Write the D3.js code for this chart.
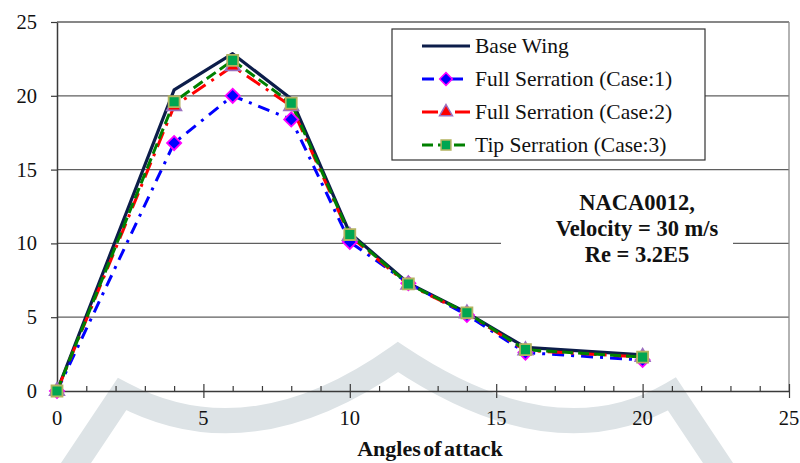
<!DOCTYPE html>
<html>
<head>
<meta charset="utf-8">
<script src="https://cdn.jsdelivr.net/npm/d3@7"></script>
<style>
  body { margin: 0; background: #fff; }
  svg { display: block; font-family: "Liberation Serif", "Times New Roman", serif; }
</style>
</head>
<body>
<div id="chart"></div>
<script>
// angles of attack
var angles = [0, 4, 6, 8, 10, 12, 14, 16, 20]

var baseWing = [0, 20.4, 22.85, 19.8, 10.7, 7.3, 5.3, 2.95, 2.45]
var fullCase1 = [0, 16.8, 20.0, 18.4, 10.1, 7.3, 5.15, 2.6, 2.1]
var fullCase2 = [0, 19.3, 22.0, 19.3, 10.5, 7.2, 5.25, 2.75, 2.3]
var tipCase3 = [0, 19.6, 22.4, 19.5, 10.6, 7.25, 5.3, 2.8, 2.3]

var seriesNames = ["Base Wing", "Full Serration (Case:1)", "Full Serration (Case:2)", "Tip Serration (Case:3)"]
var xTicks = [0, 5, 10, 15, 20, 25]
var yTicks = [0, 5, 10, 15, 20, 25]
var noteLines = ["NACA0012,", "Velocity = 30 m/s", "Re = 3.2E5"]

var width = 800, height = 463
var margin = { left: 57, right: 12, top: 22, bottom: 72 }

var svg = d3.select("#chart").append("svg")
    .attr("width", width)
    .attr("height", height)

// faint watermark behind the chart
svg.append("path")
    .attr("d", "M66,478 L122,394 Q250,462 398,357 Q555,462 672,394 L728,478")
    .attr("fill", "none")
    .attr("stroke", "#dde3e6")
    .attr("stroke-width", 25)
    .attr("stroke-linejoin", "miter")

var x = d3.scaleLinear().domain([0, 25]).range([margin.left, width - margin.right + 1])
var y = d3.scaleLinear().domain([0, 25]).range([height - margin.bottom, margin.top])

// grid
svg.append("g")
    .selectAll("line")
    .data(yTicks.filter(d => d > 0))
    .enter().append("line")
    .attr("x1", x(0)).attr("x2", x(25))
    .attr("y1", d => y(d)).attr("y2", d => y(d))
    .attr("stroke", "#5f5f5f")
    .attr("stroke-width", 1.3)

// right border of the plot area
svg.append("line")
    .attr("x1", x(25)).attr("x2", x(25))
    .attr("y1", y(25)).attr("y2", y(0))
    .attr("stroke", "#8a8a8a")
    .attr("stroke-width", 1.3)

// note box (white, hides grid)
var note = svg.append("g")
note.append("rect")
    .attr("x", 501).attr("y", 176)
    .attr("width", 232).attr("height", 110)
    .attr("fill", "#fff")
note.selectAll("text")
    .data(noteLines)
    .enter().append("text")
    .attr("x", 637)
    .attr("y", (d, i) => 210 + i * 26)
    .attr("text-anchor", "middle")
    .style("font-size", "22.5px")
    .style("font-weight", 700)
    .attr("fill", "#111")
    .text(d => d)

// axes
var xAxisG = svg.append("g")
    .attr("transform", "translate(0," + y(0) + ")")
    .call(d3.axisBottom(x).tickValues(d3.range(0, 26, 1)).tickSize(0).tickFormat(""))
xAxisG.select(".domain").attr("stroke", "#3a3a3a").attr("stroke-width", 1.5)
xAxisG.selectAll(".tick line").remove()
xAxisG.selectAll(".tick").append("line")
    .attr("y1", d => d % 5 === 0 ? -7 : -5)
    .attr("y2", d => d % 5 === 0 ? 7 : 0)
    .attr("stroke", "#3a3a3a")
    .attr("stroke-width", 1.2)

svg.append("g")
    .selectAll("text")
    .data(xTicks)
    .enter().append("text")
    .attr("x", d => x(d))
    .attr("y", y(0) + 34)
    .attr("text-anchor", "middle")
    .style("font-size", "20.5px")
    .attr("fill", "#111")
    .text(d => d)

var yAxisG = svg.append("g")
    .attr("transform", "translate(" + x(0) + ",0)")
    .call(d3.axisLeft(y).tickValues(yTicks).tickSize(6).tickPadding(14).tickSizeOuter(0))
yAxisG.select(".domain").attr("stroke", "#3a3a3a").attr("stroke-width", 1.5)
yAxisG.selectAll(".tick line").attr("stroke", "#3a3a3a").attr("stroke-width", 1.2)
yAxisG.selectAll(".tick text")
    .style("font-size", "20.5px")
    .style("font-family", "Liberation Serif, serif")
    .attr("fill", "#111")

svg.append("text")
    .attr("x", 430)
    .attr("y", 456)
    .attr("text-anchor", "middle")
    .style("font-size", "22px")
    .style("font-weight", 700)
    .style("word-spacing", "-3px")
    .attr("fill", "#111")
    .text("Angles of attack")

// series
var series = [
    { name: seriesNames[0], values: baseWing, color: "#0c1d4a", width: 3.2, dash: null, marker: null },
    { name: seriesNames[1], values: fullCase1, color: "#0000ff", width: 3, dash: "12,7,3,7", marker: "diamond" },
    { name: seriesNames[2], values: fullCase2, color: "#ff0000", width: 3, dash: "16,7,3,7", marker: "triangle" },
    { name: seriesNames[3], values: tipCase3, color: "#008000", width: 3, dash: "11,5", marker: "square" }
]

// diamond = square turned 45 degrees
var markerStyle = {
    diamond: { fill: "#0000ff", stroke: "#ff00ff", sym: d3.symbolSquare, size: 100, rot: 45 },
    triangle: { fill: "#ff0000", stroke: "#9b6fc0", sym: d3.symbolTriangle, size: 90, rot: 0 },
    square: { fill: "#00a651", stroke: "#b3b35f", sym: d3.symbolSquare, size: 120, rot: 0 }
}

var line = d3.line()
    .x((d, i) => x(angles[i]))
    .y(d => y(d))

series.forEach(function(s) {
    svg.append("path")
        .datum(s.values)
        .attr("d", line)
        .attr("fill", "none")
        .attr("stroke", s.color)
        .attr("stroke-width", s.width)
        .attr("stroke-dasharray", s.dash)
        .attr("stroke-linejoin", "round")
})

series.forEach(function(s) {
    if (!s.marker) return
    var m = markerStyle[s.marker]
    svg.append("g")
        .selectAll("path")
        .data(s.values)
        .enter().append("path")
        .attr("transform", (d, i) => "translate(" + x(angles[i]) + "," + y(d) + ") rotate(" + m.rot + ")")
        .attr("d", d3.symbol().type(m.sym).size(m.size))
        .attr("fill", m.fill)
        .attr("stroke", m.stroke)
        .attr("stroke-width", 1.8)
})

// legend
var legend = svg.append("g").attr("transform", "translate(392,29)")
legend.append("rect")
    .attr("width", 313).attr("height", 131)
    .attr("fill", "#fff")
    .attr("stroke", "#333")
    .attr("stroke-width", 1.2)

var row = legend.selectAll(".row")
    .data(series)
    .enter().append("g")
    .attr("class", "row")
    .attr("transform", (d, i) => "translate(0," + (17 + i * 33) + ")")

row.append("line")
    .attr("x1", 30).attr("x2", 78)
    .attr("stroke", d => d.color)
    .attr("stroke-width", d => d.width)
    .attr("stroke-dasharray", d => d.dash)

row.filter(d => d.marker).append("path")
    .attr("transform", d => "translate(54,0) rotate(" + markerStyle[d.marker].rot + ")")
    .attr("d", d => d3.symbol().type(markerStyle[d.marker].sym).size(markerStyle[d.marker].size * 0.8)())
    .attr("fill", d => markerStyle[d.marker].fill)
    .attr("stroke", d => markerStyle[d.marker].stroke)
    .attr("stroke-width", 1.5)

row.append("text")
    .attr("x", 83)
    .attr("y", 7)
    .style("font-size", "21.5px")
    .attr("fill", "#111")
    .text(d => d.name)
</script>
</body>
</html>
